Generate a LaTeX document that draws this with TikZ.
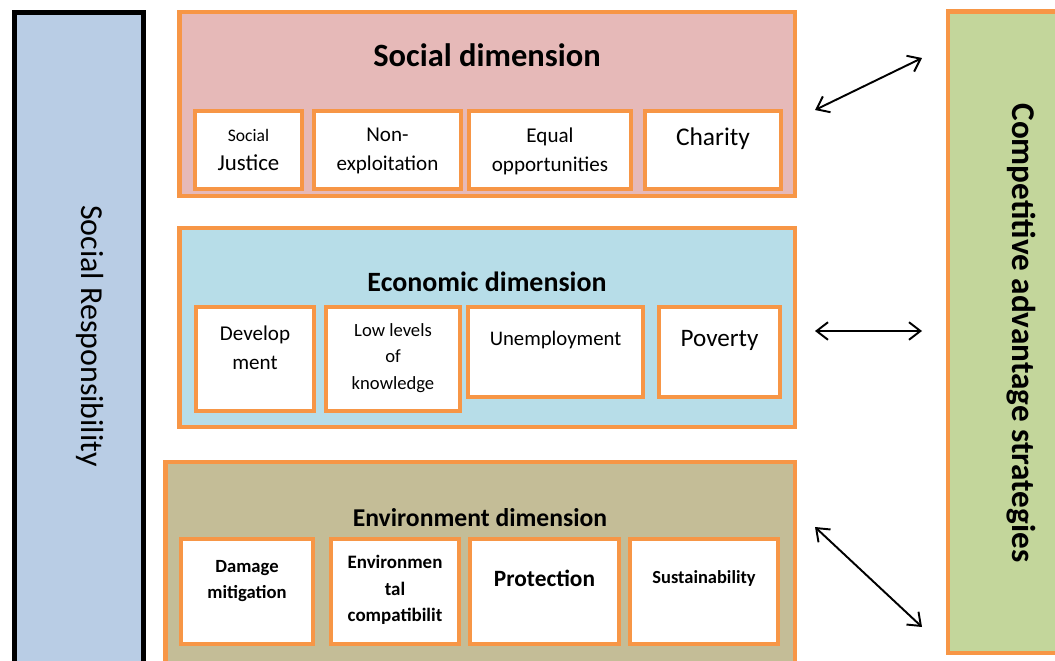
\documentclass[tikz,border=0pt]{standalone}
\usepackage{fontspec}
\setmainfont{Carlito}
\usetikzlibrary{positioning, arrows.meta}

\definecolor{frameorange}{HTML}{F79646}
\definecolor{respblue}{HTML}{B9CDE5}
\definecolor{socialpink}{HTML}{E6B9B8}
\definecolor{econblue}{HTML}{B7DDE8}
\definecolor{envkhaki}{HTML}{C4BD97}
\definecolor{stratgreen}{HTML}{C3D69B}

\newcommand{\fs}[1]{\fontsize{#1}{#1}\selectfont}

\begin{document}
\begin{tikzpicture}[x=0.02cm, y=-0.02cm,
    dimbox/.style={draw=frameorange, line width=2.5pt, minimum width=12.31cm},
    itembox/.style={draw=frameorange, fill=white, line width=2.5pt},
    itemtext/.style={inner sep=0pt, align=center},
    >={Straight Barb[length=6.5pt, width=10pt]}]
    \useasboundingbox (0,0) rectangle (1055,660);
    \clip (0,0) rectangle (1055,660);

    % side panels
    \node [draw=black, line width=2.8pt, fill=respblue, minimum width=2.58cm, minimum height=13.3cm] (resp) at (79,345) {};
    \node [rotate=-90, font=\fs{18.2}] (resplabel) at (90,336) {Social Responsibility};
    \node [draw=frameorange, line width=2.5pt, fill=stratgreen, minimum width=2.39cm, minimum height=12.83cm] (strat) at (1008,332) {};
    \node [rotate=-90, font=\bfseries\fs{18.9}] (stratlabel) at (1021,333) {Competitive advantage strategies};

    % social dimension
    \node [dimbox, fill=socialpink, minimum height=3.67cm] (social) at (487,104) {};
    \node [font=\bfseries\fs{18.5}] (socialtitle) at (487,55) {Social dimension};
    \node [itembox, minimum width=2.13cm, minimum height=1.55cm] (justice) at (248.5,150) {};
    \node [itembox, minimum width=2.93cm, minimum height=1.55cm] (nonexp) at (387.5,150) {};
    \node [itembox, minimum width=3.23cm, minimum height=1.55cm] (equal) at (550,150) {};
    \node [itembox, minimum width=2.71cm, minimum height=1.55cm] (charity) at (713,150) {};
    \node [itemtext, font=\fontsize{13}{16}\selectfont] (justicetext) at (248.5,150) {{\fontsize{10}{12}\selectfont Social}\\{Justice}};
    \node [itemtext, font=\fontsize{12}{16.5}\selectfont] (nonexptext) at (387.5,151) {Non-\\exploitation};
    \node [itemtext, font=\fontsize{12}{16.5}\selectfont] (equaltext) at (550,151) {Equal\\opportunities};
    \node [itemtext, font=\fs{14.5}] (charitytext) at (713,139) {Charity};

    % economic dimension
    \node [dimbox, fill=econblue, minimum height=3.97cm] (econ) at (487,327.5) {};
    \node [font=\bfseries\fs{15.9}] (econtitle) at (487,282) {Economic dimension};
    \node [itembox, minimum width=2.35cm, minimum height=2.07cm] (devel) at (255,359) {};
    \node [itembox, minimum width=2.67cm, minimum height=2.07cm] (lowknow) at (393,359) {};
    \node [itembox, minimum width=3.49cm, minimum height=1.79cm] (unemp) at (555.5,352) {};
    \node [itembox, minimum width=2.41cm, minimum height=1.79cm] (poverty) at (719.5,352) {};
    \node [itemtext, font=\fontsize{12}{16.5}\selectfont] (develtext) at (255,348) {Develop\\ment};
    \node [itemtext, font=\fontsize{10.6}{15}\selectfont] (lowknowtext) at (393,358) {Low levels\\of\\knowledge};
    \node [itemtext, font=\fs{11.8}] (unemptext) at (555.5,340) {Unemployment};
    \node [itemtext, font=\fs{14.3}] (povertytext) at (719.5,340) {Poverty};

    % environment dimension
    \node [dimbox, fill=envkhaki, minimum width=12.59cm, minimum height=4.01cm] (env) at (480,562.5) {};
    \node [font=\bfseries\fs{14.6}] (envtitle) at (480,518) {Environment dimension};
    \node [itembox, minimum width=2.63cm, minimum height=2.09cm] (damage) at (247,591.5) {};
    \node [itembox, minimum width=2.55cm, minimum height=2.09cm] (envcomp) at (395,591.5) {};
    \node [itembox, minimum width=2.97cm, minimum height=2.09cm] (protect) at (544.5,591.5) {};
    \node [itembox, minimum width=2.95cm, minimum height=2.09cm] (sustain) at (704,591.5) {};
    \node [itemtext, font=\bfseries\fontsize{10.6}{15}\selectfont] (damagetext) at (247,581) {Damage\\mitigation};
    \node [itemtext, font=\bfseries\fontsize{10.8}{15}\selectfont] (envcomptext) at (395,590) {Environmen\\tal\\compatibilit};
    \node [itemtext, font=\bfseries\fs{13.3}] (protecttext) at (544.5,578) {Protection};
    \node [itemtext, font=\bfseries\fs{10.5}] (sustaintext) at (704,578) {Sustainability};

    % links to the strategies
    \coordinate (socialend) at (815,110);
    \coordinate (socialtip) at (922,58);
    \coordinate (econend) at (815,331);
    \coordinate (econtip) at (922,331);
    \coordinate (envend) at (815,527);
    \coordinate (envtip) at (922,627);
    \draw [<->, line width=1.1pt] (socialend) -- (socialtip);
    \draw [<->, line width=1.1pt] (econend) -- (econtip);
    \draw [<->, line width=1.1pt] (envend) -- (envtip);
\end{tikzpicture}
\end{document}
